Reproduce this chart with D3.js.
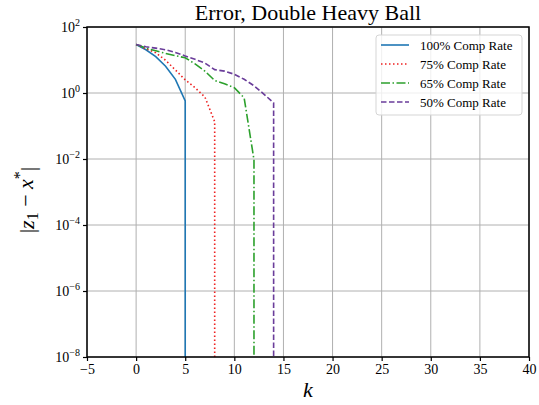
<!DOCTYPE html>
<html>
<head>
<meta charset="utf-8">
<script src="https://cdn.jsdelivr.net/npm/d3@7"></script>
<style>
  body { margin: 0; background: #fff; }
  svg text { font-family: "Liberation Serif", "DejaVu Serif", serif; }
</style>
</head>
<body>
<div id="chart"></div>
<script>
// error |z1 - x*| per iteration k (index = k)
var rate100 = [29.5, 20.4, 12.6, 6.5, 2.6, 0.58];
var rate75  = [29.5, 21.9, 16.6, 9.8, 5.0, 2.5, 1.45, 0.76, 0.135];
var rate65  = [29.5, 22.9, 19.0, 15.8, 13.5, 11.7, 7.6, 4.6, 2.4, 1.9, 1.45, 0.71, 0.0095];
var rate50  = [29.5, 25.1, 22.9, 20.4, 17.0, 13.2, 10.5, 8.1, 5.1, 4.6, 3.7, 2.6, 1.66, 0.93, 0.50];
// after the last step the error drops below the plotted range
var floorVal = 1e-14;

var seriesNames = ["100% Comp Rate", "75% Comp Rate", "65% Comp Rate", "50% Comp Rate"];
var xTicks = [-5, 0, 5, 10, 15, 20, 25, 30, 35, 40];
var yExps = [2, 0, -2, -4, -6, -8];

(function(){
  var width = 539, height = 405;
  var margin = {left: 87, right: 10, top: 27, bottom: 48};
  var serif = "'Liberation Serif', 'DejaVu Serif', serif";

  var svg = d3.select("#chart")
    .append("svg")
    .attr("width", width)
    .attr("height", height);

  var x = d3.scaleLinear().domain([-5, 40]).range([margin.left, width - margin.right]);
  var y = d3.scaleLog().domain([1e-8, 1e2]).range([height - margin.bottom, margin.top]);

  // grid
  svg.append("g").selectAll("line").data(xTicks).enter().append("line")
    .attr("x1", d => x(d)).attr("x2", d => x(d))
    .attr("y1", y(1e-8)).attr("y2", y(1e2))
    .attr("stroke", "#b0b0b0").attr("stroke-width", 1);
  svg.append("g").selectAll("line").data(yExps).enter().append("line")
    .attr("x1", x(-5)).attr("x2", x(40))
    .attr("y1", d => y(Math.pow(10, d))).attr("y2", d => y(Math.pow(10, d)))
    .attr("stroke", "#b0b0b0").attr("stroke-width", 1);

  svg.append("clipPath").attr("id", "clip")
    .append("rect")
    .attr("x", x(-5)).attr("y", y(1e2))
    .attr("width", x(40) - x(-5)).attr("height", y(1e-8) - y(1e2));

  var styles = [
    {color: "#1f77b4", dash: null},
    {color: "#ee2020", dash: "1.5,2.5"},
    {color: "#2ca02c", dash: "9,2.5,1.5,2.5"},
    {color: "#6a3d9a", dash: "5.5,2.5"}
  ];
  var allSeries = [rate100, rate75, rate65, rate50];

  var line = d3.line().x(d => x(d[0])).y(d => y(d[1]));

  allSeries.forEach(function(vals, i){
    var pts = vals.map((v, k) => [k, v]);
    pts.push([vals.length - 1, floorVal]);
    svg.append("path")
      .datum(pts)
      .attr("clip-path", "url(#clip)")
      .attr("fill", "none")
      .attr("stroke", styles[i].color)
      .attr("stroke-width", 1.6)
      .attr("stroke-dasharray", styles[i].dash)
      .attr("d", line);
  });

  // axes
  var xAxis = svg.append("g")
    .attr("transform", "translate(0," + y(1e-8) + ")")
    .call(d3.axisBottom(x).tickValues(xTicks).tickSize(4).tickPadding(3)
      .tickFormat(d => d < 0 ? "\u2212" + Math.abs(d) : d));
  xAxis.attr("font-family", serif).attr("font-size", 14);
  xAxis.selectAll("text").attr("fill", "#000");

  var yAxis = svg.append("g")
    .attr("transform", "translate(" + x(-5) + ",0)")
    .call(d3.axisLeft(y).tickValues(yExps.map(e => Math.pow(10, e))).tickSize(4).tickPadding(3)
      .tickFormat(""));
  yAxis.attr("font-family", serif).attr("font-size", 14);
  yAxis.selectAll(".tick").each(function(d){
    var e = Math.round(Math.log10(d));
    var t = d3.select(this).append("text")
      .attr("x", -7).attr("dy", "0.32em")
      .attr("text-anchor", "end")
      .attr("font-size", 14).attr("fill", "#000");
    t.append("tspan").text("10");
    t.append("tspan").attr("dy", "-0.55em").attr("font-size", 10)
      .text(e < 0 ? "\u2212" + Math.abs(e) : e);
  });
  svg.selectAll(".domain").remove();
  svg.selectAll(".tick line").attr("stroke", "#000").attr("stroke-width", 1.2);

  // frame
  svg.append("rect")
    .attr("x", x(-5)).attr("y", y(1e2))
    .attr("width", x(40) - x(-5)).attr("height", y(1e-8) - y(1e2))
    .attr("fill", "none").attr("stroke", "#000").attr("stroke-width", 1.5);

  // title and labels
  svg.append("text")
    .attr("x", (x(-5) + x(40)) / 2).attr("y", 20)
    .attr("text-anchor", "middle").attr("font-size", 22)
    .text("Error, Double Heavy Ball");

  svg.append("text")
    .attr("x", (x(-5) + x(40)) / 2).attr("y", 397)
    .attr("text-anchor", "middle").attr("font-size", 22)
    .attr("font-style", "italic")
    .text("k");

  var yl = svg.append("text")
    .attr("transform", "translate(34,200) rotate(-90)")
    .attr("text-anchor", "middle").attr("font-size", 22);
  yl.append("tspan").text("|");
  yl.append("tspan").attr("font-style", "italic").text("z");
  yl.append("tspan").attr("font-size", 16).attr("dy", "0.25em").text("1");
  yl.append("tspan").attr("dy", "-0.25em").text(" \u2212 ");
  yl.append("tspan").attr("font-style", "italic").text("x");
  yl.append("tspan").attr("font-size", 16).attr("dy", "-0.45em").text("*");
  yl.append("tspan").attr("dy", "0.45em").text("|");

  // legend
  var lg = svg.append("g").attr("transform", "translate(376,35)");
  lg.append("rect")
    .attr("width", 146).attr("height", 80).attr("rx", 3)
    .attr("fill", "#fff").attr("fill-opacity", 0.8)
    .attr("stroke", "#d5d5d5").attr("stroke-width", 1);
  seriesNames.forEach(function(name, i){
    var yy = 10 + i * 19;
    lg.append("line")
      .attr("x1", 5).attr("x2", 33).attr("y1", yy).attr("y2", yy)
      .attr("stroke", styles[i].color).attr("stroke-width", 1.6)
      .attr("stroke-dasharray", styles[i].dash);
    lg.append("text")
      .attr("x", 44).attr("y", yy).attr("dy", "0.35em")
      .attr("font-size", 13).text(name);
  });
})();
</script>
</body>
</html>
